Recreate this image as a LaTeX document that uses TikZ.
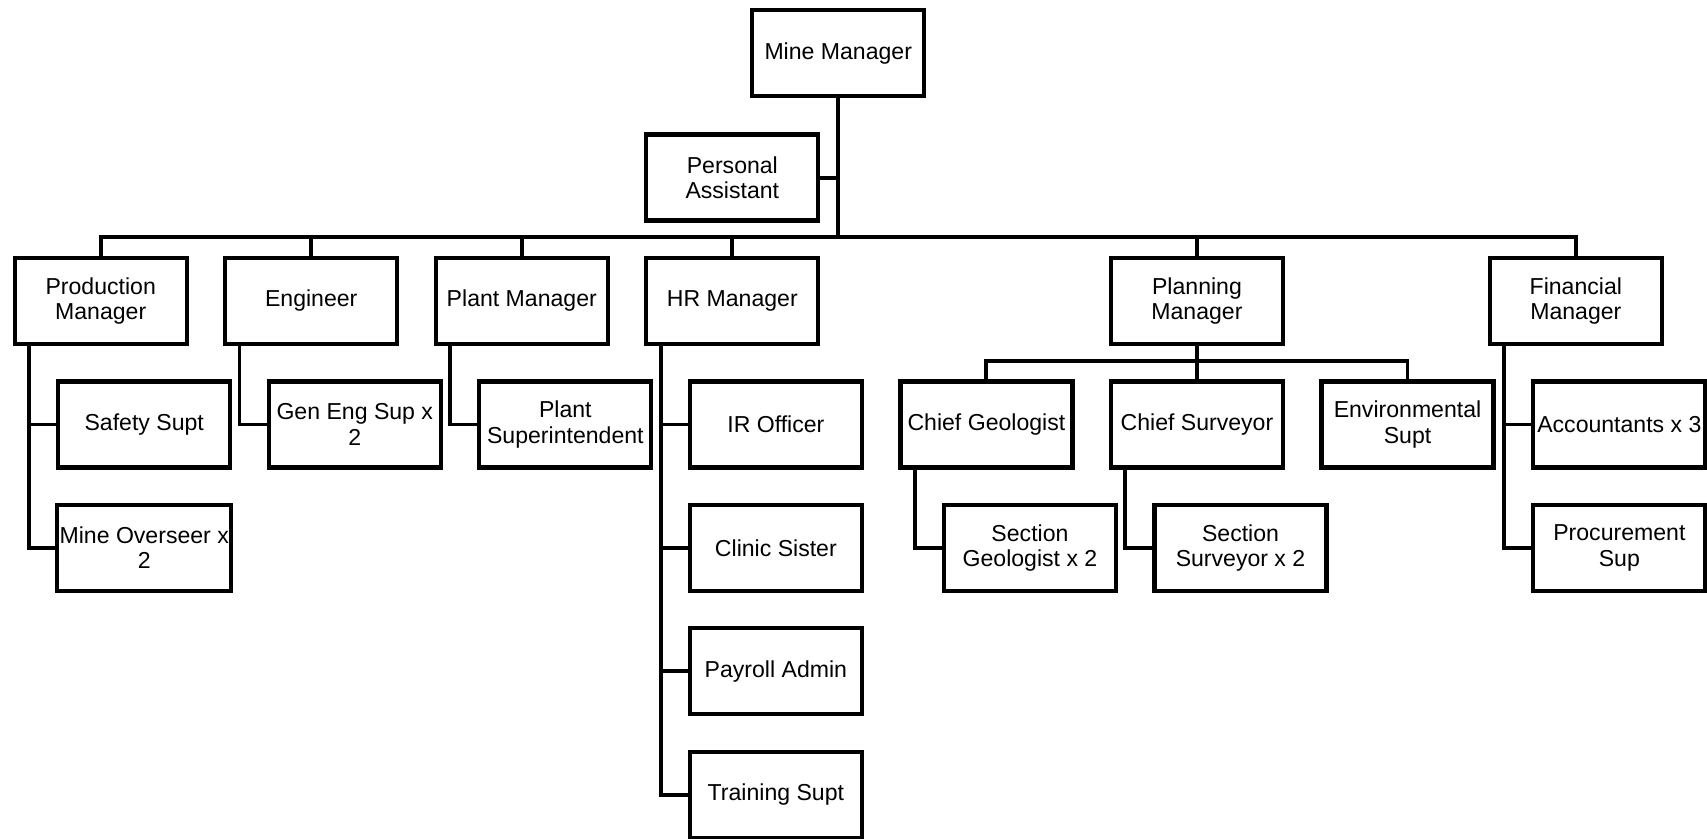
\documentclass[tikz,border=0pt]{standalone}
\usepackage{fontspec}
\setmainfont{Liberation Sans}
\usetikzlibrary{positioning}

\begin{document}
\begin{tikzpicture}[x=0.5pt,y=-0.5pt,
  box/.style={draw, line width=1.9pt, minimum width=79pt, minimum height=39.5pt,
    inner sep=1pt, align=center, font=\fontsize{10.6}{11.6}\selectfont},
  link/.style={line width=1.8pt},
  node distance=15.3pt and 15.8pt]
  \useasboundingbox (0,0) rectangle (1568,770);

  % top of the tree
  \node[box] (mm) at (770,49) {Mine Manager};

  % department heads
  \node[box] (prod) at (92.5,276.5) {Production\\Manager};
  \node[box, right=of prod] (eng) {Engineer};
  \node[box, right=of eng] (plant) {Plant Manager};
  \node[box, right=of plant] (hr) {HR Manager};
  \node[box] (plan) at (1099.5,276.5) {Planning\\Manager};
  \node[box] (fin) at (1447.5,276.5) {Financial\\Manager};
  \node[box, above=of hr] (pa) {Personal\\Assistant};

  % staff under each head
  \node[box, below=of prod, xshift=20pt] (safety) {Safety Supt};
  \node[box, below=of safety] (overseer) {Mine Overseer x\\2};
  \node[box, below=of eng, xshift=20pt] (geneng) {Gen Eng Sup x\\2};
  \node[box, below=of plant, xshift=20pt] (plantsup) {Plant\\Superintendent};
  \node[box, below=of hr, xshift=20pt] (ir) {IR Officer};
  \node[box, below=of ir] (clinic) {Clinic Sister};
  \node[box, below=of clinic] (payroll) {Payroll Admin};
  \node[box, below=of payroll] (training) {Training Supt};
  \node[box, below=of plan] (chsur) {Chief Surveyor};
  \node[box, left=of chsur] (chgeo) {Chief Geologist};
  \node[box, right=of chsur] (env) {Environmental\\Supt};
  \node[box, below=of chgeo, xshift=20pt] (secgeo) {Section\\Geologist x 2};
  \node[box, below=of chsur, xshift=20pt] (secsur) {Section\\Surveyor x 2};
  \node[box, below=of fin, xshift=20pt] (acc) {Accountants x 3};
  \node[box, below=of acc] (proc) {Procurement\\Sup};

  % main bus
  \coordinate (bus) at (770,218);
  \draw[link] (mm.south) -- (bus);
  \draw[link] (pa.east) -- (pa.east -| bus);
  \draw[link] (prod.north) |- (bus) -| (fin.north);
  \foreach \n in {eng,plant,hr,plan}
    \draw[link] (\n.north) -- (\n.north |- bus);

  % planning branch
  \draw[link] (plan.south) -- (chsur.north);
  \draw[link] (chgeo.north) -- ++(0,-17) -| (env.north);

  % side feeders
  \draw[link] ([xshift=7.5pt]prod.south west) coordinate (pl) |- (overseer.west);
  \draw[link] (safety.west) -- (safety.west -| pl);
  \draw[link] ([xshift=7.5pt]eng.south west) |- (geneng.west);
  \draw[link] ([xshift=7.5pt]plant.south west) |- (plantsup.west);
  \draw[link] ([xshift=7.5pt]hr.south west) coordinate (hl) |- (training.west);
  \foreach \n in {ir,clinic,payroll}
    \draw[link] (\n.west) -- (\n.west -| hl);
  \draw[link] ([xshift=7.5pt]chgeo.south west) |- (secgeo.west);
  \draw[link] ([xshift=7.5pt]chsur.south west) |- (secsur.west);
  \draw[link] ([xshift=7.5pt]fin.south west) coordinate (fl) |- (proc.west);
  \draw[link] (acc.west) -- (acc.west -| fl);
\end{tikzpicture}
\end{document}
